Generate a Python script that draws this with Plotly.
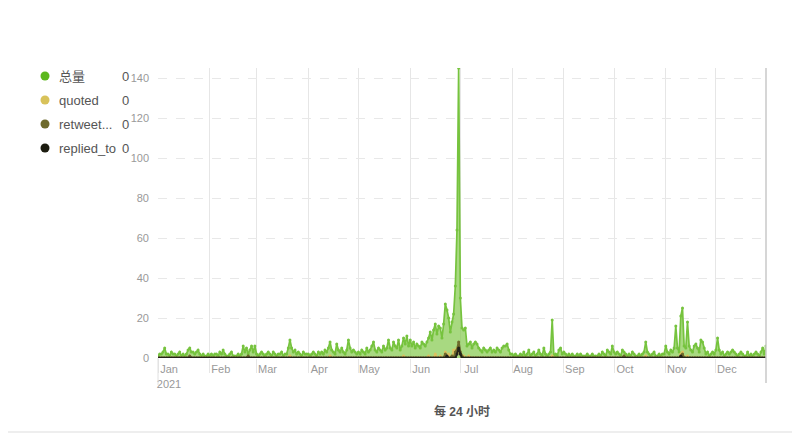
import plotly.graph_objects as go
import pandas as pd

dates = pd.date_range("2021-01-01", "2021-12-31", freq="D")

total_jan = [1,2,2,3,5,2,2,1,3,2,2,1,2,3,1,2,1,2,4,5,3,3,2,3,4,2,1,2,1,1,2]
total_feb = [1,2,1,2,2,1,3,2,4,2,1,1,2,3,1,1,1,2,1,2,6,3,5,2,4,6,3,6]
total_mar = [2,1,2,3,2,1,2,3,2,1,3,2,1,2,2,3,1,2,2,5,9,5,3,4,2,3,2,1,3,2,2]
total_apr = [2,1,2,3,2,1,3,2,3,2,4,3,5,8,4,3,2,7,4,3,5,3,2,4,9,5,3,4,3,2]
total_may = [3,2,4,3,2,5,3,4,6,8,4,3,5,4,3,6,4,5,9,5,4,8,6,5,9,4,6,10,7,11,6]
total_jun = [9,6,8,5,7,6,5,8,7,6,8,10,13,9,14,17,12,16,15,10,17,27,24,20,13,18,22,36,64,145]
total_jul = [30,15,14,15,6,7,8,5,7,8,7,5,4,3,5,4,3,4,5,3,4,3,5,4,3,5,6,6,7,4,2]
total_aug = [2,1,2,1,1,2,1,3,1,2,4,1,2,3,1,2,4,2,1,5,2,1,2,3,19,1,2,1,4,5,2]
total_sep = [3,2,1,2,1,2,1,1,2,1,2,1,1,1,2,1,1,2,1,1,1,2,1,3,2,1,4,3,2,6]
total_oct = [3,2,3,2,1,4,3,2,1,2,1,3,2,1,1,2,1,2,3,8,3,2,1,2,3,1,1,2,1,2,2]
total_nov = [6,3,2,4,3,5,16,5,3,21,25,6,5,18,6,4,3,6,7,5,3,9,8,5,2,3,1,2,3,2]
total_dec = [4,10,4,2,3,1,2,3,2,3,4,3,2,1,2,3,2,1,1,3,1,2,1,2,3,2,1,3,5,2,6]

total = (total_jan + total_feb + total_mar + total_apr + total_may + total_jun +
         total_jul + total_aug + total_sep + total_oct + total_nov + total_dec)

# non-zero days of the smaller series (all other days are 0)
quoted_days = {"2021-03-21": 1, "2021-04-14": 1, "2021-05-28": 1, "2021-06-12": 1,
               "2021-06-16": 2, "2021-06-19": 1, "2021-06-22": 3, "2021-06-24": 2,
               "2021-06-27": 4, "2021-06-28": 3, "2021-06-29": 5, "2021-06-30": 3,
               "2021-07-01": 2, "2021-07-03": 1, "2021-07-06": 1, "2021-08-25": 1,
               "2021-10-20": 1, "2021-11-10": 2, "2021-11-11": 3, "2021-11-14": 1}
retweeted_days = {"2021-01-20": 1, "2021-02-24": 1, "2021-06-22": 2, "2021-06-26": 1,
                  "2021-06-28": 3, "2021-06-29": 4, "2021-06-30": 8, "2021-07-01": 3,
                  "2021-07-02": 1, "2021-10-07": 1, "2021-11-11": 2}
replied_days = {"2021-06-23": 1, "2021-06-29": 2, "2021-06-30": 5, "2021-07-01": 2,
                "2021-11-10": 1}

series_names = ["总量", "quoted", "retweet...", "replied_to"]
legend_values = ["0", "0", "0", "0"]
month_ticks = ["2021-%02d-01" % m for m in range(1, 13)]
month_labels = ["Jan<br>2021", "Feb", "Mar", "Apr", "May", "Jun", "Jul", "Aug",
                "Sep", "Oct", "Nov", "Dec"]
y_ticks = [0, 20, 40, 60, 80, 100, 120, 140]


def expand(days):
    s = [0] * len(dates)
    for k, v in days.items():
        s[(pd.Timestamp(k) - dates[0]).days] = v
    return s


quoted = expand(quoted_days)
retweeted = expand(retweeted_days)
replied = expand(replied_days)

colors = ["#5cb81d", "#d8c25a", "#6e6a2c", "#1c1c10"]
line_colors = ["rgb(118,195,62)", "#dcc060", "#6e6a2c", "#23231a"]

FONT = "Liberation Sans, Noto Sans CJK SC, sans-serif"

# the page body adds an 8px offset; work in screen pixels and convert
OFF = 8
W, H = 800 - OFF, 436 - OFF
L, R, T, B = 158 - OFF, 766 - OFF, 68 - OFF, 358 - OFF
PW, PH = R - L, B - T


def px(x):
    return (x - OFF - L) / PW


def py(y):
    return (B - (y - OFF)) / PH


fig = go.Figure()
fig.add_trace(go.Scatter(x=dates, y=total, mode="lines+markers", showlegend=False,
                         line=dict(color=line_colors[0], width=1.7),
                         marker=dict(size=3, color=line_colors[0]),
                         fill="tozeroy", fillcolor="rgba(135,203,80,0.72)"))
for vals, c in [(quoted, line_colors[1]), (retweeted, line_colors[2]), (replied, line_colors[3])]:
    fig.add_trace(go.Scatter(x=dates, y=vals, mode="lines+markers", showlegend=False,
                             line=dict(color=c, width=2),
                             marker=dict(size=3, color=c)))

annotations = []
shapes = []
for i, (n, c, v) in enumerate(zip(series_names, colors, legend_values)):
    yc = 76 + 24 * i
    shapes.append(dict(type="circle", xref="paper", yref="paper",
                       xsizemode="pixel", ysizemode="pixel",
                       xanchor=px(45), yanchor=py(yc),
                       x0=-4.5, x1=4.5, y0=-4.5, y1=4.5,
                       fillcolor=c, line=dict(width=0)))
    annotations.append(dict(text=n, xref="paper", yref="paper",
                            x=px(57), y=py(yc), xanchor="left", yanchor="middle",
                            showarrow=False, font=dict(size=13, color="#555", family=FONT)))
    annotations.append(dict(text=v, xref="paper", yref="paper",
                            x=px(120), y=py(yc), xanchor="left", yanchor="middle",
                            showarrow=False, font=dict(size=13, color="#555", family=FONT)))

shapes += [
    dict(type="line", xref="paper", yref="paper", x0=1, x1=1,
         y0=py(383), y1=1, line=dict(color="#c8c8c8", width=1.5)),
    dict(type="line", xref="paper", yref="paper", x0=0, x1=0,
         y0=py(385), y1=0, line=dict(color="#e0e0e0", width=1)),
    dict(type="line", xref="paper", yref="paper", x0=px(0), x1=px(800),
         y0=py(432), y1=py(432), line=dict(color="#dddddd", width=1)),
]

fig.update_layout(
    width=W, height=H,
    margin=dict(l=L, r=W - R, t=T, b=H - B, autoexpand=False),
    plot_bgcolor="white", paper_bgcolor="white",
    font=dict(family=FONT, color="#555"),
    showlegend=False,
    annotations=annotations,
    shapes=shapes,
    xaxis=dict(range=["2021-01-01", "2021-12-31"], tickvals=month_ticks, ticktext=month_labels,
               showgrid=True, gridcolor="#e6e6e6", gridwidth=1,
               ticks="outside", ticklen=14, tickcolor="#e6e6e6",
               tickfont=dict(size=11, color="#999"), ticklabelshift=11,
               ticklabelstandoff=-13,
               showline=False, zeroline=False,
               title=dict(text="<b>每 24 小时</b>", font=dict(size=12, color="#555"), standoff=19)),
    yaxis=dict(range=[0, 145], tickvals=y_ticks, showgrid=True, gridcolor="#e8e8e8",
               griddash="dash", zeroline=False, showline=False,
               tickfont=dict(size=11, color="#999"), ticks="", ticklabelstandoff=8),
)

fig.write_html("out.html")
